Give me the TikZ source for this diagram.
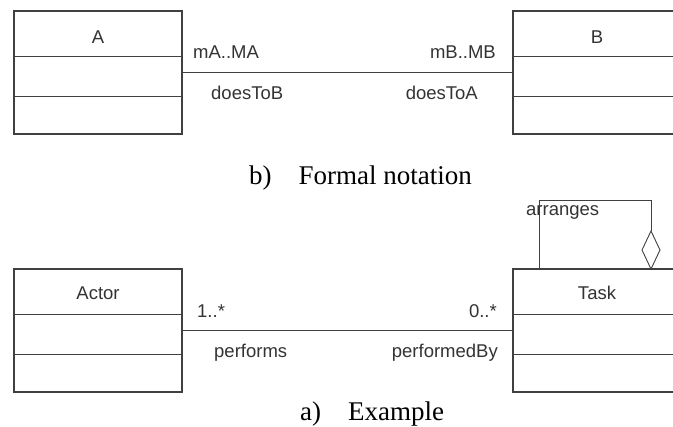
\documentclass[tikz,border=0pt]{standalone}
\usepackage{fontspec}
\setmainfont{Liberation Serif}
\setsansfont{Liberation Sans}
\begin{document}
\begin{tikzpicture}[x=1pt,y=-1pt,
  linecol/.style={draw=black!75},
  umlbox/.style={linecol, line width=1.1pt, rectangle, minimum width=168pt, minimum height=123pt, inner sep=0pt, outer sep=0pt},
  assoc/.style={linecol, line width=0.9pt},
  lbl/.style={font=\sffamily\fontsize{18.5}{22}\selectfont, text=black!80, inner sep=0pt},
  caption/.style={font=\rmfamily\fontsize{27}{31}\selectfont, text=black, inner sep=0pt}]
\useasboundingbox (0,0) rectangle (673,427);
\clip (0,0) rectangle (673,427);

% ---------- formal notation ----------
\node[umlbox] (A) at (98,72.5) {};
\node[umlbox] (B) at (597,72.5) {};
\foreach \b in {A,B}{
  \draw[linecol, line width=0.9pt] ([yshift=-45pt]\b.north west) -- ([yshift=-45pt]\b.north east);
  \draw[linecol, line width=0.9pt] ([yshift=-85pt]\b.north west) -- ([yshift=-85pt]\b.north east);
}
\node[lbl] (Aname) at (98,37) {A};
\node[lbl] (Bname) at (597,37) {B};
\draw[assoc] (A.east) -- (B.west);
\node[lbl, anchor=west] (mA) at (193,52) {mA..MA};
\node[lbl, anchor=east] (mB) at (496,52) {mB..MB};
\node[lbl, anchor=west] (dB) at (211,93) {doesToB};
\node[lbl, anchor=east] (dA) at (478,93) {doesToA};
\node[caption, anchor=base west] (capb) at (249,185) {b)\hspace{1em}Formal notation};

% ---------- example ----------
\node[umlbox] (Actor) at (98,330.5) {};
\node[umlbox] (Task) at (597,330.5) {};
\foreach \b in {Actor,Task}{
  \draw[linecol, line width=0.9pt] ([yshift=-45pt]\b.north west) -- ([yshift=-45pt]\b.north east);
  \draw[linecol, line width=0.9pt] ([yshift=-85pt]\b.north west) -- ([yshift=-85pt]\b.north east);
}
\node[lbl] (Actorname) at (98,293) {Actor};
\node[lbl] (Taskname) at (597,293) {Task};
\draw[assoc] (Actor.east) -- (Task.west);
\node[lbl, anchor=west] (m1) at (197,311) {1..*};
\node[lbl, anchor=east] (m2) at (497,311) {0..*};
\node[lbl, anchor=west] (rp) at (214,353) {performs};
\node[lbl, anchor=east] (rpb) at (498,353) {performedBy};

% self association with aggregation diamond
\coordinate (loopS) at ([xshift=26pt]Task.north west);
\coordinate (dBot) at ([xshift=138pt]Task.north west);
\coordinate (dTop) at ([yshift=38pt]dBot);
\draw[assoc] (loopS) -- ++(0,-69) -| (dTop);
\draw[assoc] (dTop) -- ++(-9,19) -- (dBot) -- ++(9,-19) -- cycle;
\node[lbl, anchor=west] (arr) at (526,212) {arranges};
\node[caption, anchor=base west] (capa) at (300,421) {a)\hspace{1em}Example};
\end{tikzpicture}
\end{document}
